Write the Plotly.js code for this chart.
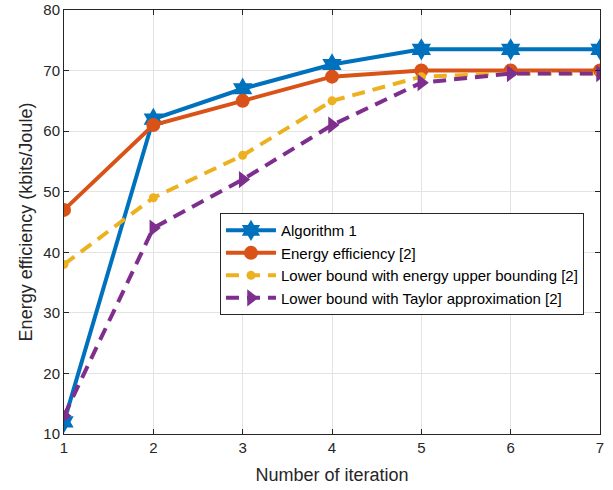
<!DOCTYPE html>
<html>
<head>
<meta charset="utf-8">
<script src="https://cdn.plot.ly/plotly-3.0.1.min.js"></script>
<style>html,body{margin:0;padding:0;background:#fff;}#chart{width:613px;height:490px;}</style>
</head>
<body>
<div id="chart"></div>
<script>
const iterations = [1, 2, 3, 4, 5, 6, 7];
const algorithm1 = [12, 62, 67, 71, 73.5, 73.5, 73.5];
const energyEfficiency = [47, 61, 65, 69, 70, 70, 70];
const lowerBoundUpper = [38, 49, 56, 65, 69, 69.5, 69.5];
const lowerBoundTaylor = [13, 44, 52, 61, 68, 69.5, 69.5];
const seriesNames = [
  'Algorithm 1',
  'Energy efficiency [2]',
  'Lower bound with energy upper bounding [2]',
  'Lower bound with Taylor approximation [2]'
];

const traces = [
  {x: iterations, y: algorithm1, name: seriesNames[0], mode: 'lines+markers',
   line: {color: '#0072BD', width: 4},
   marker: {symbol: 'hexagram', size: 17, color: '#0072BD'}},
  {x: iterations, y: energyEfficiency, name: seriesNames[1], mode: 'lines+markers',
   line: {color: '#D95319', width: 4},
   marker: {symbol: 'circle', size: 14, color: '#D95319'}},
  {x: iterations, y: lowerBoundUpper, name: seriesNames[2], mode: 'lines+markers',
   line: {color: '#EDB120', width: 4, dash: '13px,8px'},
   marker: {symbol: 'circle', size: 9, color: '#EDB120'}},
  {x: iterations, y: lowerBoundTaylor, name: seriesNames[3], mode: 'lines+markers',
   line: {color: '#7E2F8E', width: 4, dash: '13px,8px'},
   marker: {symbol: 'triangle-right', size: 15, color: '#7E2F8E'}}
];

const fontFam = 'Liberation Sans, Arial, sans-serif';
const axisCommon = {
  showline: true, mirror: 'ticks', linecolor: '#262626', linewidth: 1,
  ticks: 'inside', ticklen: 5, tickcolor: '#262626',
  showgrid: true, gridcolor: '#e3e3e3', gridwidth: 1, zeroline: false,
  tickfont: {family: fontFam, size: 15, color: '#262626'}
};

const layout = {
  width: 613, height: 490,
  margin: {l: 64, r: 13, t: 10, b: 56},
  paper_bgcolor: '#ffffff', plot_bgcolor: '#ffffff',
  showlegend: true,
  xaxis: Object.assign({}, axisCommon, {
    range: [1, 7], tickvals: iterations, ticktext: iterations.map(String),
    title: {text: 'Number of iteration', standoff: 13,
            font: {family: fontFam, size: 18, color: '#262626'}}
  }),
  yaxis: Object.assign({}, axisCommon, {
    range: [10, 80], tickvals: [10, 20, 30, 40, 50, 60, 70, 80],
    title: {text: 'Energy efficiency (kbits/Joule)', standoff: 6,
            font: {family: fontFam, size: 18, color: '#262626'}}
  }),
  legend: {
    x: 0.291, y: 0.521, xanchor: 'left', yanchor: 'top',
    bgcolor: '#ffffff', bordercolor: '#262626', borderwidth: 1,
    font: {family: fontFam, size: 15, color: '#000000'},
    tracegroupgap: 0, itemwidth: 50
  }
};

Plotly.newPlot('chart', traces, layout, {displayModeBar: false, staticPlot: true});
</script>
</body>
</html>
